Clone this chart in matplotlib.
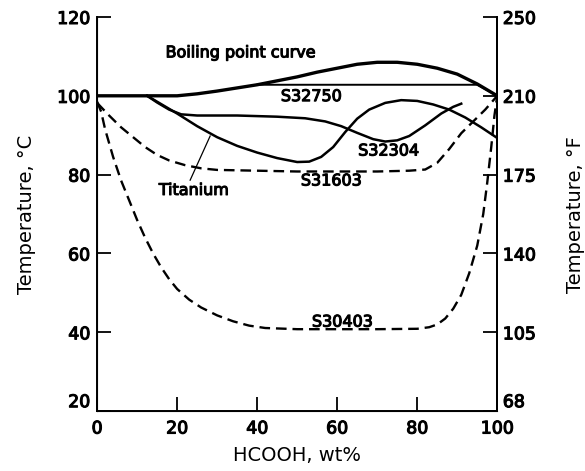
import matplotlib
matplotlib.use("Agg")
import matplotlib.pyplot as plt
import matplotlib.patheffects as pe

plt.rcParams["font.family"] = ["DejaVu Sans"]

# curves (wt% HCOOH, temperature in C)
boil_x = [0, 10, 20, 25, 30, 35, 40, 45, 50, 55, 60, 65, 70, 75, 80, 85, 90, 95, 100]
boil_y = [100, 100, 100, 100.5, 101.2, 102, 102.8, 103.8, 104.8, 106, 107, 108, 108.5, 108.5, 108, 107, 105.5, 103, 100]

s32750_x = [40, 60, 80, 95, 100]
s32750_y = [102.8, 102.8, 102.8, 102.8, 100]

s32304_x = [12.5, 15, 18, 21, 25, 35, 45, 52, 57, 61, 65, 69, 72, 75, 78, 82, 86, 89, 91]
s32304_y = [100, 98.3, 96.5, 95.3, 95, 95, 94.7, 94.3, 93.5, 92.3, 90.6, 89, 88.4, 88.7, 89.8, 92.5, 95.5, 97.2, 98]

ti_x = [12.5, 15, 20, 25, 30, 35, 40, 45, 50, 53, 56, 59, 62, 65, 68, 72, 76, 80, 84, 88, 92, 96, 100]
ti_y = [100, 98.5, 95.5, 92.3, 89.5, 87.3, 85.6, 84.2, 83.2, 83.3, 84.5, 87, 90.8, 94.2, 96.5, 98.2, 98.9, 98.7, 97.8, 96.5, 94.5, 92, 89.3]

s31603_x = [0, 3, 6, 9, 12, 15, 18, 22, 26, 30, 40, 50, 60, 70, 78, 82, 85, 88, 91, 94, 97, 100]
s31603_y = [98.2, 95, 92, 89.5, 87, 85, 83.6, 82.4, 81.6, 81.2, 81, 80.8, 80.8, 80.8, 81, 81.3, 83, 86.5, 90.5, 93.5, 96.5, 100]

s30403_x = [0, 1, 2, 4, 6, 8, 10, 12, 14, 16, 18, 20, 23, 26, 30, 34, 38, 42, 50, 60, 70,
            80, 83, 85, 87, 89, 91, 93, 95, 96.5, 97.5, 98.5, 99.3, 100]
s30403_y = [98.5, 96, 91.5, 84.5, 78.5, 73.5, 68.5, 64, 60, 56.5, 53.5, 51, 48.3, 46.3, 44.3, 42.8, 41.7, 41.1, 40.8, 40.8, 40.8,
            40.9, 41.3, 42, 43.5, 46, 49.5, 55, 62, 70, 78, 87, 95, 100]

c_ticks = [20, 40, 60, 80, 100, 120]
f_labels = ["68", "105", "140", "175", "210", "250"]
x_ticks = [0, 20, 40, 60, 80, 100]

heavy = [pe.withStroke(linewidth=0.8, foreground="black")]

fig = plt.figure(figsize=(5.85, 4.71), dpi=100)
ax = fig.add_axes([0.166, 0.127, 0.684, 0.837])

ax.plot(boil_x, boil_y, color="black", lw=2.4)
ax.plot(s32750_x, s32750_y, color="black", lw=1.4)
ax.plot(s32304_x, s32304_y, color="black", lw=1.8)
ax.plot(ti_x, ti_y, color="black", lw=1.8)
ax.plot(s31603_x, s31603_y, color="black", lw=1.7, dashes=(4.5, 2.5))
ax.plot(s30403_x, s30403_y, color="black", lw=1.7, dashes=(4.5, 2.5))

# titanium pointer
ax.plot([23.25, 28.25], [78.6, 89.8], color="black", lw=0.9)

lab = dict(fontsize=11.5, color="black", ha="center", va="center", path_effects=heavy)
ax.text(36.0, 110.9, "Boiling point curve", **lab)
ax.text(53.5, 99.8, "S32750", **lab)
ax.text(72.8, 86.0, "S32304", **lab)
ax.text(58.5, 78.4, "S31603", **lab)
ax.text(24.25, 76.0, "Titanium", **lab)
ax.text(61.25, 42.6, "S30403", **lab)

ax.set_xlim(0, 100)
ax.set_ylim(20, 120)
ax.set_xticks(x_ticks)
ax.set_yticks(c_ticks)
ax.tick_params(direction="in", length=10, width=1.3, labelsize=12.5)
ax.tick_params(axis="x", pad=6)
ax.tick_params(axis="y", pad=5)
ax.set_xlabel("HCOOH, wt%", fontsize=14, labelpad=6)
ax.set_ylabel("Temperature, °C", fontsize=14, labelpad=15)
ax.spines["top"].set_visible(False)
for s in ["left", "bottom", "right"]:
    ax.spines[s].set_linewidth(1.4)

ax2 = ax.twinx()
ax2.set_ylim(20, 120)
ax2.set_yticks(c_ticks)
ax2.set_yticklabels(f_labels)
ax2.tick_params(direction="in", length=10, width=1.3, labelsize=12.5, pad=4)
ax2.set_ylabel("Temperature, °F", fontsize=14, labelpad=22)
ax2.spines["top"].set_visible(False)
ax2.spines["right"].set_linewidth(1.4)

# bottom y labels sit just above the corner, as in the original
ax.get_yticklabels()[0].set_va("bottom")
ax2.get_yticklabels()[0].set_va("bottom")

for t in ax.get_xticklabels() + ax.get_yticklabels() + ax2.get_yticklabels():
    t.set_path_effects(heavy)

fig.savefig("out.png", dpi=100)
